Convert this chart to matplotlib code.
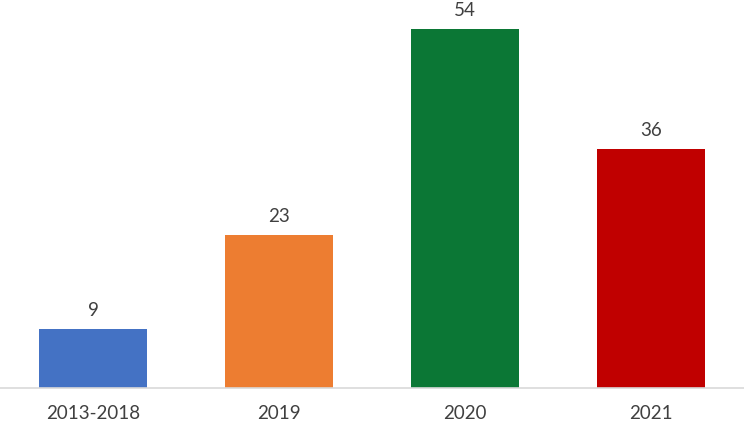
import matplotlib
matplotlib.use("Agg")
import matplotlib.pyplot as plt

categories = ["2013-2018", "2019", "2020", "2021"]
values = [9, 23, 54, 36]
colors = ["#4472C4", "#ED7D31", "#0B7735", "#C00000"]

plt.rcParams['font.family'] = ['Lato', 'DejaVu Sans']

fig = plt.figure(figsize=(7.44, 4.21), dpi=100)
ax = fig.add_axes([0, 0.0772, 1, 0.9228])
x = list(range(len(categories)))
ax.bar(x, values, width=0.58, color=colors, zorder=2)
ax.set_xlim(-0.5, len(categories) - 0.5)
ax.set_ylim(0, 58.4)
for xi, v in zip(x, values):
    ax.annotate(str(v), (xi, v), xytext=(0, 13), textcoords="offset pixels",
                ha="center", va="baseline", fontsize=13.5, color="#404040",
                annotation_clip=False)
for s in ["top", "left", "right"]:
    ax.spines[s].set_visible(False)
ax.spines["bottom"].set_color("#D9D9D9")
ax.spines["bottom"].set_linewidth(1.2)
ax.set_yticks([])
ax.set_xticks(x)
ax.set_xticklabels(categories, fontsize=13.5, color="#404040")
ax.tick_params(axis="x", length=0, pad=12)
fig.savefig("out.png", dpi=100)
